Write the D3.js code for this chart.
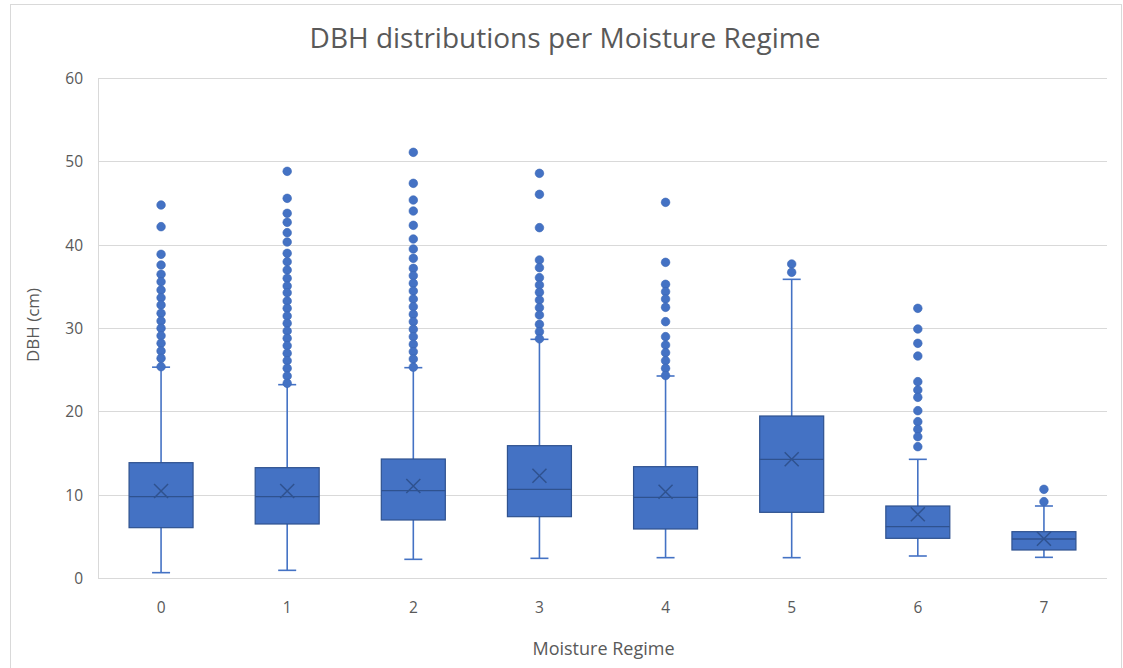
<!DOCTYPE html>
<html>
<head>
<meta charset="utf-8">
<script src="https://cdn.jsdelivr.net/npm/d3@7/dist/d3.min.js"></script>
<style>
  html, body { margin: 0; padding: 0; background: #fff; }
  svg { display: block; }
  text { font-family: "Open Sans", "Noto Sans", sans-serif; fill: #595959; }
</style>
</head>
<body>
<svg id="chart" width="1123" height="668"></svg>
<script>
// Moisture regime classes
const categories = ["0", "1", "2", "3", "4", "5", "6", "7"];

// Box statistics of DBH (cm) per regime
const whiskerLow  = [0.64, 0.92, 2.24, 2.36, 2.44, 2.44, 2.64, 2.48];
const q1          = [6.04, 6.48, 6.96, 7.36, 5.88, 7.88, 4.76, 3.36];
const median      = [9.76, 9.76, 10.48, 10.64, 9.68, 14.24, 6.16, 4.68];
const q3          = [13.84, 13.24, 14.28, 15.88, 13.36, 19.44, 8.64, 5.56];
const whiskerHigh = [25.3, 23.2, 25.24, 28.64, 24.24, 35.84, 14.24, 8.64];
const means       = [10.44, 10.44, 11.04, 12.28, 10.36, 14.24, 7.64, 4.7];

// Outlying DBH values per regime
const outliers = [
  [44.76, 42.16, 38.84, 37.56, 36.44, 35.56, 34.56, 33.64, 32.76, 31.76, 30.84, 29.96, 29.08, 28.16, 27.24, 26.36, 25.36],
  [48.8, 45.56, 43.76, 42.68, 41.44, 40.32, 38.96, 37.96, 36.96, 35.96, 35.04, 34.24, 33.24, 32.36, 31.44, 30.56, 29.64, 28.76, 27.88, 26.96, 26.08, 25.16, 24.24, 23.36],
  [51.08, 47.36, 45.36, 44.04, 42.32, 40.68, 39.48, 38.36, 37.16, 36.28, 35.36, 34.44, 33.48, 32.56, 31.64, 30.76, 29.84, 28.96, 28.04, 27.16, 26.28, 25.3],
  [48.56, 46.04, 42.04, 38.16, 37.24, 36.04, 35.16, 34.28, 33.36, 32.44, 31.56, 30.44, 29.56, 28.7],
  [45.08, 37.88, 35.24, 34.36, 33.48, 32.48, 30.76, 28.96, 27.96, 27.04, 26.08, 25.16, 24.3],
  [37.68, 36.68],
  [32.36, 29.88, 28.16, 26.64, 23.56, 22.56, 21.68, 20.08, 18.76, 17.84, 16.96, 15.76],
  [10.64, 9.16]
];

const yTicks = [0, 10, 20, 30, 40, 50, 60];

const fillBlue = "#4472C4";
const darkBlue = "#2F528F";
const gridGray = "#d9d9d9";

const svg = d3.select("#chart");

// chart frame
svg.append("rect")
  .attr("x", 10.5).attr("y", 4.5)
  .attr("width", 1111).attr("height", 680)
  .attr("fill", "#fff").attr("stroke", gridGray).attr("stroke-width", 1);

const plot = { left: 98, right: 1107, top: 78, bottom: 578 };

const x = d3.scaleBand().domain(categories).range([plot.left, plot.right]).padding(0);
const y = d3.scaleLinear().domain([0, 60]).range([plot.bottom, plot.top]);

// horizontal gridlines
svg.append("g").selectAll("line").data(yTicks).join("line")
  .attr("x1", plot.left).attr("x2", plot.right)
  .attr("y1", d => Math.round(y(d)) + 0.5).attr("y2", d => Math.round(y(d)) + 0.5)
  .attr("stroke", gridGray).attr("stroke-width", 1);

// left plot edge
svg.append("line")
  .attr("x1", plot.left + 0.5).attr("x2", plot.left + 0.5)
  .attr("y1", plot.top).attr("y2", plot.bottom)
  .attr("stroke", gridGray).attr("stroke-width", 1);

// y axis labels
const yAxis = svg.append("g")
  .attr("transform", `translate(${plot.left - 15},0)`)
  .call(d3.axisLeft(y).tickValues(yTicks).tickSize(0).tickPadding(0));
yAxis.select(".domain").remove();
yAxis.selectAll("text")
  .attr("x", 0).attr("dy", "0.36em")
  .style("font-family", '"Open Sans", sans-serif')
  .style("font-size", "15.5px").style("fill", "#595959");

// x axis labels
const xAxis = svg.append("g")
  .attr("transform", `translate(0,${plot.bottom})`)
  .call(d3.axisBottom(x).tickSize(0).tickPadding(0));
xAxis.select(".domain").remove();
xAxis.selectAll("text")
  .attr("y", 35).attr("dy", 0)
  .style("font-family", '"Open Sans", sans-serif')
  .style("font-size", "15.5px").style("fill", "#595959");

const boxW = 64;
const capW = 18;
const cx = c => x(c) + x.bandwidth() / 2;

const groups = svg.append("g").selectAll("g").data(categories).join("g");

// whiskers
groups.append("line")
  .attr("x1", cx).attr("x2", cx)
  .attr("y1", (c, i) => y(whiskerLow[i])).attr("y2", (c, i) => y(q1[i]))
  .attr("stroke", fillBlue).attr("stroke-width", 1.6);
groups.append("line")
  .attr("x1", cx).attr("x2", cx)
  .attr("y1", (c, i) => y(q3[i])).attr("y2", (c, i) => y(whiskerHigh[i]))
  .attr("stroke", fillBlue).attr("stroke-width", 1.6);
// whisker caps
groups.append("line")
  .attr("x1", c => cx(c) - capW / 2).attr("x2", c => cx(c) + capW / 2)
  .attr("y1", (c, i) => y(whiskerLow[i])).attr("y2", (c, i) => y(whiskerLow[i]))
  .attr("stroke", fillBlue).attr("stroke-width", 1.6);
groups.append("line")
  .attr("x1", c => cx(c) - capW / 2).attr("x2", c => cx(c) + capW / 2)
  .attr("y1", (c, i) => y(whiskerHigh[i])).attr("y2", (c, i) => y(whiskerHigh[i]))
  .attr("stroke", fillBlue).attr("stroke-width", 1.6);

// boxes
groups.append("rect")
  .attr("x", c => cx(c) - boxW / 2).attr("width", boxW)
  .attr("y", (c, i) => y(q3[i]))
  .attr("height", (c, i) => y(q1[i]) - y(q3[i]))
  .attr("fill", fillBlue).attr("stroke", darkBlue).attr("stroke-width", 1.2);

// medians
groups.append("line")
  .attr("x1", c => cx(c) - boxW / 2).attr("x2", c => cx(c) + boxW / 2)
  .attr("y1", (c, i) => y(median[i])).attr("y2", (c, i) => y(median[i]))
  .attr("stroke", darkBlue).attr("stroke-width", 1.4);

// mean markers
const m = 7;
groups.append("path")
  .attr("d", (c, i) => {
    const px = cx(c), py = y(means[i]);
    return `M${px - m},${py - m}L${px + m},${py + m}M${px - m},${py + m}L${px + m},${py - m}`;
  })
  .attr("stroke", darkBlue).attr("stroke-width", 1.5).attr("fill", "none");

// outlier points
groups.each(function (c, i) {
  d3.select(this).selectAll("circle").data(outliers[i]).join("circle")
    .attr("cx", cx(c)).attr("cy", v => y(v)).attr("r", 4.3)
    .attr("fill", fillBlue).attr("stroke", "#3a66b5").attr("stroke-width", 0.6);
});

// titles
svg.append("text")
  .attr("x", 565).attr("y", 48).attr("text-anchor", "middle")
  .style("font-size", "28px")
  .text("DBH distributions per Moisture Regime");

svg.append("text")
  .attr("x", (plot.left + plot.right) / 2 + 1).attr("y", 655).attr("text-anchor", "middle")
  .style("font-size", "18px")
  .text("Moisture Regime");

svg.append("text")
  .attr("transform", `translate(39,${(plot.top + plot.bottom) / 2 - 3}) rotate(-90)`)
  .attr("text-anchor", "middle")
  .style("font-size", "17px")
  .text("DBH (cm)");
</script>
</body>
</html>
